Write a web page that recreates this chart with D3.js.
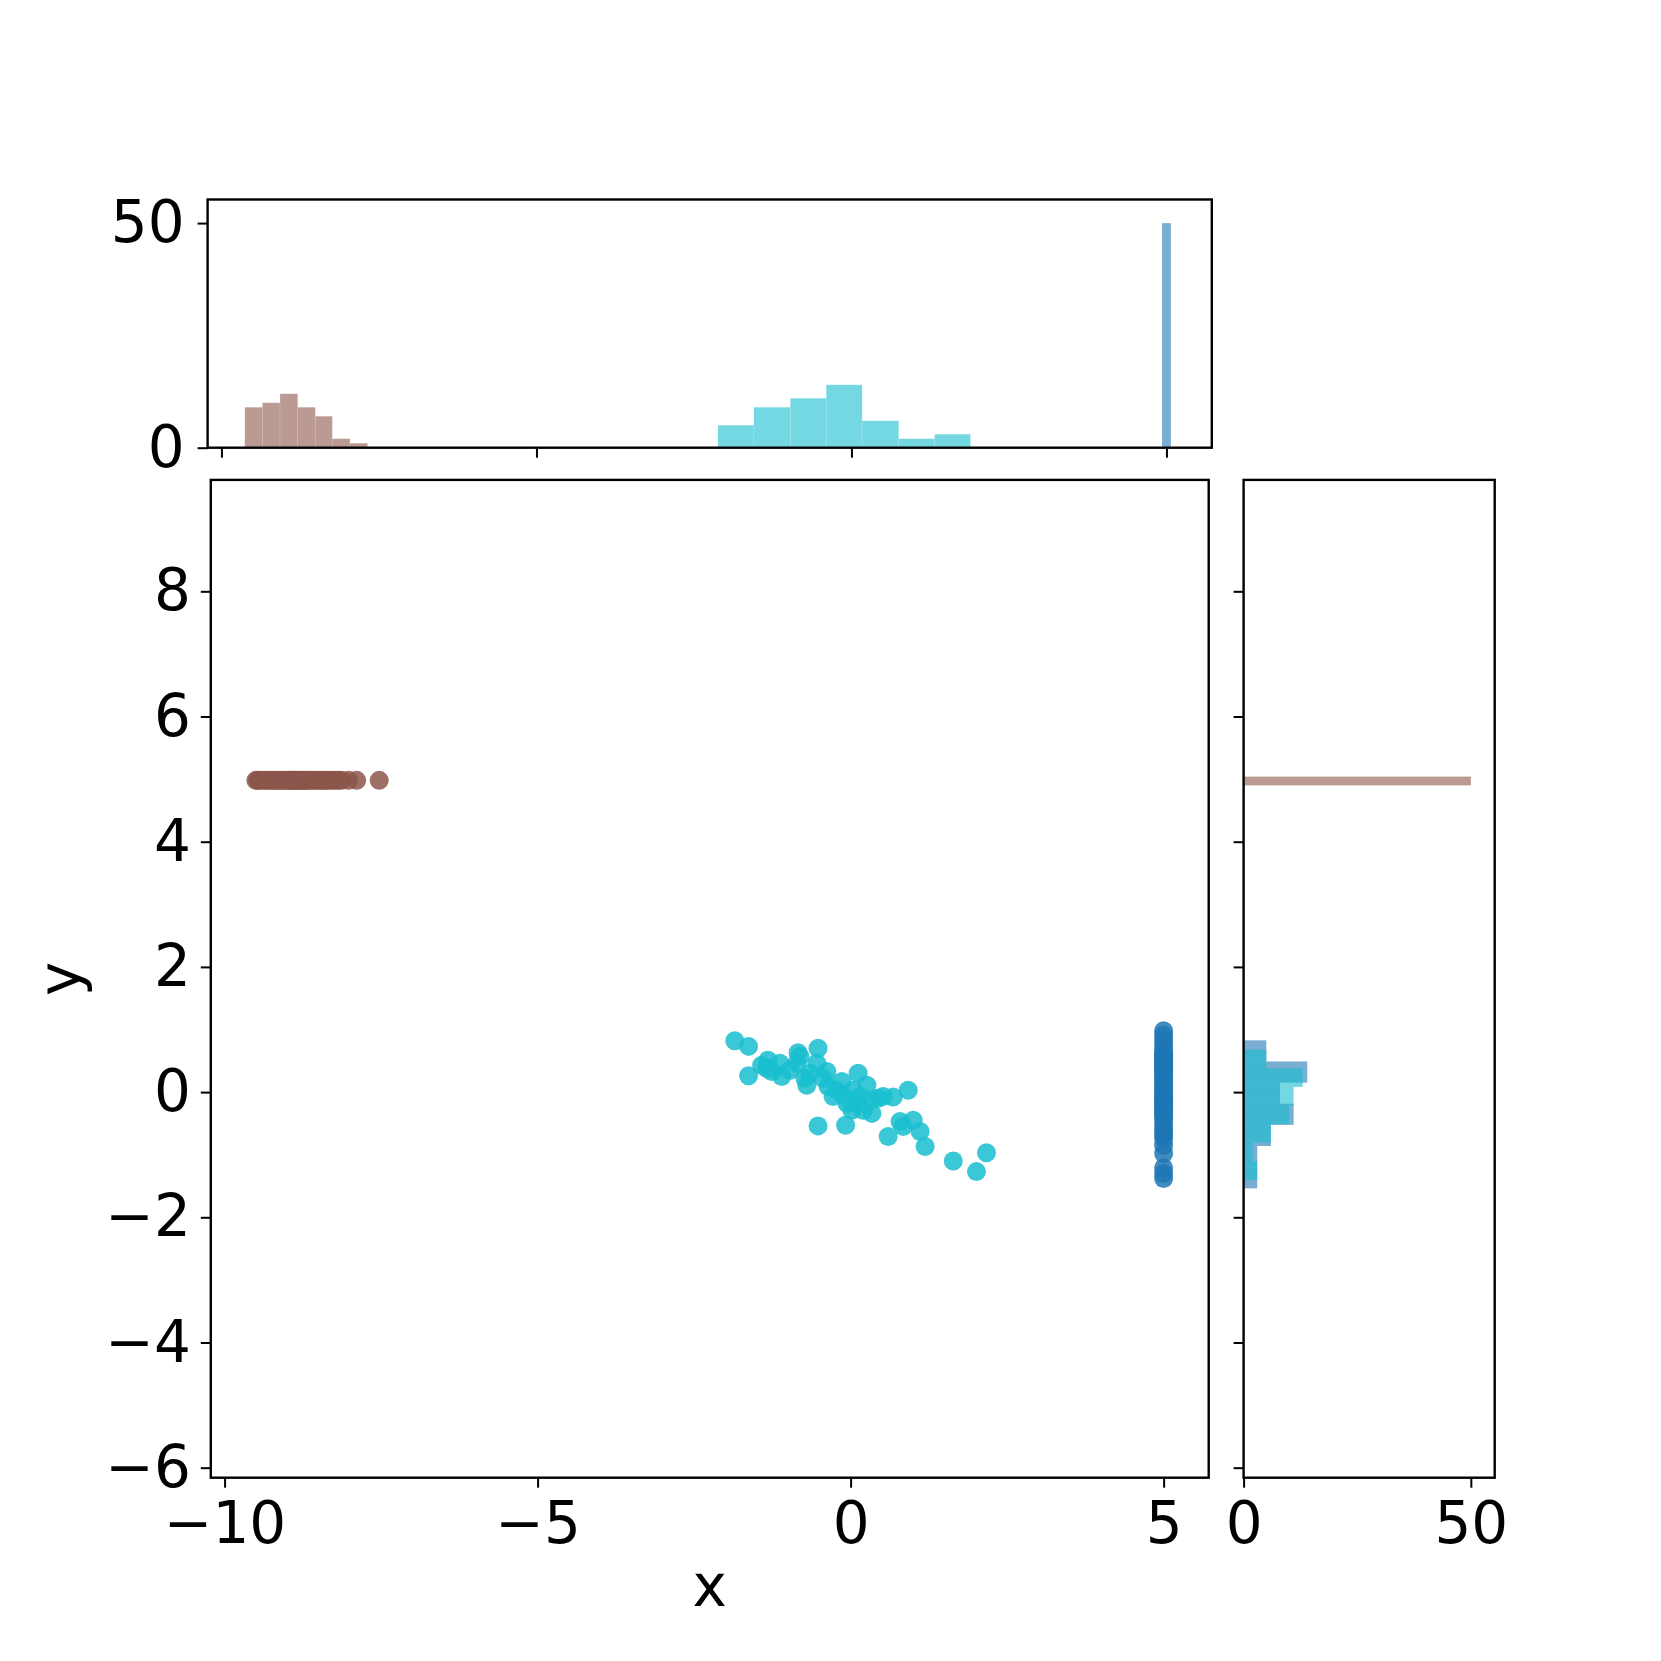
<!DOCTYPE html>
<html>
<head>
<meta charset="utf-8">
<script src="https://cdn.jsdelivr.net/npm/d3@7"></script>
<style>
  html, body { margin: 0; padding: 0; background: #ffffff; }
  svg { display: block; font-family: "DejaVu Sans", sans-serif; }
</style>
</head>
<body>
<div id="chart"></div>
<script>
// ---------------- data ----------------
const groupNames = ["blue", "brown", "cyan"];
const groupColors = ["#1f77b4", "#8c564b", "#17becf"];

// group "blue": every point sits at x = 5
const blueXValue = 5;
const blueY = [-1.38, -1.30, -1.21, -0.98, -0.85, -0.74, -0.68, -0.63, -0.57, -0.50,
  -0.44, -0.39, -0.35, -0.32, -0.28, -0.25, -0.21, -0.18, -0.15, -0.12,
  -0.09, -0.06, -0.04, 0.01, 0.05, 0.09, 0.13, 0.17, 0.21, 0.25,
  0.29, 0.33, 0.35, 0.38, 0.40, 0.43, 0.45, 0.48, 0.50, 0.53,
  0.55, 0.57, 0.59, 0.61, 0.63, 0.68, 0.75, 0.83, 0.91, 0.98];

// group "brown": every point sits at y = 5
const brownYValue = 4.98;
const brownX = [-9.50, -9.47, -9.44, -9.40, -9.36, -9.33, -9.29, -9.26, -9.23,
  -9.20, -9.17, -9.14, -9.11, -9.08, -9.05, -9.02, -8.99, -8.97, -8.95,
  -8.93, -8.91, -8.89, -8.86, -8.84, -8.81, -8.79, -8.76, -8.74, -8.72, -8.70, -8.68,
  -8.65, -8.62, -8.59, -8.56, -8.52, -8.49, -8.46, -8.43, -8.40,
  -8.37, -8.33, -8.29, -8.25, -8.21, -8.17, -8.13,
  -8.02, -7.89, -7.53];

// group "cyan"
const cyanX = [-1.85, -1.63, -1.63, -1.32, -1.34, -1.13, -1.10, -0.84, -0.86, -0.73,
  -0.70, -0.52, -0.54, -0.38, -0.36, -0.28, -0.14, -0.12, 0.12, 0.26,
  0.10, 0.02, 0.34, 0.44, 0.68, 0.92, -0.52, -0.08, 0.60, 0.84,
  1.00, 1.11, 1.19, 1.64, 2.17, 2.01, 0.20, -0.97, -0.65, -0.22,
  0.04, 0.31, 0.52, -1.26, -1.42, -0.81, -0.44, -0.06, 0.15, 0.79];
const cyanY = [0.82, 0.73, 0.26, 0.51, 0.38, 0.46, 0.25, 0.63, 0.46, 0.22,
  0.11, 0.70, 0.46, 0.33, 0.09, -0.07, 0.17, -0.05, 0.30, 0.11,
  -0.18, -0.29, -0.34, -0.10, -0.08, 0.03, -0.54, -0.53, -0.71, -0.55,
  -0.45, -0.63, -0.87, -1.10, -0.97, -1.27, -0.29, 0.35, 0.30, 0.03,
  0.03, -0.13, -0.07, 0.33, 0.43, 0.57, 0.22, -0.18, -0.07, -0.47];

// marginal histogram along x (top panel): bin edges and counts
const topBlueEdges = [4.929, 5.071];
const topBlueCounts = [50];
const topBrownEdges = [-9.63, -9.35, -9.07, -8.79, -8.51, -8.24, -7.96, -7.68];
const topBrownCounts = [9, 10, 12, 9, 7, 2, 1];
const topCyanEdges = [-2.12, -1.55, -0.97, -0.40, 0.17, 0.75, 1.32, 1.89];
const topCyanCounts = [5, 9, 11, 14, 6, 2, 3];

// marginal histogram along y (right panel): bin edges and counts
const rightBlueEdges = [-1.537, -1.199, -0.861, -0.524, -0.186, 0.151, 0.489, 0.827];
const rightBlueCounts = [3, 3, 6, 11, 8, 14, 5];
const rightBrownEdges = [4.90, 5.04];
const rightBrownCounts = [50];
const rightCyanEdges = [-1.403, -1.105, -0.808, -0.511, -0.214, 0.083, 0.380, 0.677];
const rightCyanCounts = [3, 2, 6, 10, 11, 13, 5];

const xTicks = [-10, -5, 0, 5];
const yTicks = [-6, -4, -2, 0, 2, 4, 6, 8];
const countTicks = [0, 50];
const xLabel = "x";
const yLabel = "y";

// ---------------- layout ----------------
const W = 1661, H = 1661;
const FONT = 58;
const main = { left: 210.8, right: 1208.7, top: 479.9, bottom: 1477.7 };
const topP = { left: 207.6, right: 1211.8, top: 199.5, bottom: 447.7 };
const rightP = { left: 1243.6, right: 1494.7, top: 479.9, bottom: 1477.7 };

const xDomain = [-10.22, 5.72];
const yDomain = [-6.16, 9.78];
const countMax = 55.25;

const x = d3.scaleLinear().domain(xDomain).range([main.left, main.right]);
const y = d3.scaleLinear().domain(yDomain).range([main.bottom, main.top]);
const xTop = d3.scaleLinear().domain(xDomain).range([topP.left, topP.right]);
const cTop = d3.scaleLinear().domain([0, countMax]).range([topP.bottom, topP.top]);
const cRight = d3.scaleLinear().domain([0, countMax]).range([rightP.left, rightP.right]);

const svg = d3.select("#chart").append("svg")
  .attr("width", W).attr("height", H).attr("viewBox", `0 0 ${W} ${H}`);
svg.append("rect").attr("width", W).attr("height", H).attr("fill", "#fff");

function binsOf(edges, counts) {
  return counts.map((c, i) => ({ x0: edges[i], x1: edges[i + 1], n: c }));
}

// ---------------- top histogram ----------------
const gTop = svg.append("g");
const topSets = [
  [topBlueEdges, topBlueCounts, 0],
  [topBrownEdges, topBrownCounts, 1],
  [topCyanEdges, topCyanCounts, 2]
];
topSets.forEach(([e, c, gi]) => {
  gTop.append("g").selectAll("rect").data(binsOf(e, c)).join("rect")
    .attr("x", d => xTop(d.x0))
    .attr("width", d => xTop(d.x1) - xTop(d.x0))
    .attr("y", d => cTop(d.n))
    .attr("height", d => cTop(0) - cTop(d.n))
    .attr("fill", groupColors[gi]).attr("fill-opacity", 0.6)
    .attr("stroke", "#ffffff").attr("stroke-opacity", 0.12).attr("stroke-width", 1);
});

// ---------------- right histogram ----------------
const gRight = svg.append("g");
const rightSets = [
  [rightBlueEdges, rightBlueCounts, 0],
  [rightBrownEdges, rightBrownCounts, 1],
  [rightCyanEdges, rightCyanCounts, 2]
];
rightSets.forEach(([e, c, gi]) => {
  gRight.append("g").selectAll("rect").data(binsOf(e, c)).join("rect")
    .attr("x", cRight(0))
    .attr("width", d => cRight(d.n) - cRight(0))
    .attr("y", d => y(d.x1))
    .attr("height", d => y(d.x0) - y(d.x1))
    .attr("fill", groupColors[gi]).attr("fill-opacity", 0.6);
});

// ---------------- scatter ----------------
const gPts = svg.append("g");
const R = 9.5;
const pointSets = [
  [blueY.map(v => ({ x: blueXValue, y: v })), 0],
  [brownX.map(v => ({ x: v, y: brownYValue })), 1],
  [cyanX.map((v, i) => ({ x: v, y: cyanY[i] })), 2]
];
pointSets.forEach(([pts, gi]) => {
  gPts.append("g").selectAll("circle").data(pts).join("circle")
    .attr("cx", d => x(d.x)).attr("cy", d => y(d.y)).attr("r", R)
    .attr("fill", groupColors[gi]).attr("fill-opacity", 0.85);
});

// ---------------- axes ----------------
function styleAxis(g) {
  g.select(".domain").remove();
  g.selectAll(".tick line").attr("stroke", "#000").attr("stroke-width", 2);
  g.selectAll(".tick text").attr("fill", "#000")
    .style("font-family", "'DejaVu Sans', sans-serif").style("font-size", FONT + "px");
}
function box(p) {
  svg.append("rect")
    .attr("x", p.left).attr("y", p.top)
    .attr("width", p.right - p.left).attr("height", p.bottom - p.top)
    .attr("fill", "none").attr("stroke", "#000").attr("stroke-width", 2.4);
}

// main x axis
svg.append("g").attr("transform", `translate(0,${main.bottom})`)
  .call(d3.axisBottom(x).tickValues(xTicks).tickSize(10).tickPadding(14).tickSizeOuter(0))
  .call(styleAxis);
// main y axis
svg.append("g").attr("transform", `translate(${main.left},0)`)
  .call(d3.axisLeft(y).tickValues(yTicks).tickSize(10).tickPadding(10).tickSizeOuter(0))
  .call(styleAxis);

// top hist x ticks (no labels)
svg.append("g").attr("transform", `translate(0,${topP.bottom})`)
  .call(d3.axisBottom(xTop).tickValues(xTicks).tickSize(10).tickFormat("").tickSizeOuter(0))
  .call(styleAxis);
// top hist y axis
svg.append("g").attr("transform", `translate(${topP.left},0)`)
  .call(d3.axisLeft(cTop).tickValues(countTicks).tickSize(10).tickPadding(13).tickSizeOuter(0))
  .call(styleAxis);

// right hist x axis
svg.append("g").attr("transform", `translate(0,${rightP.bottom})`)
  .call(d3.axisBottom(cRight).tickValues(countTicks).tickSize(10).tickPadding(14).tickSizeOuter(0))
  .call(styleAxis);
// right hist y ticks (no labels)
svg.append("g").attr("transform", `translate(${rightP.left},0)`)
  .call(d3.axisLeft(y).tickValues(yTicks).tickSize(10).tickFormat("").tickSizeOuter(0))
  .call(styleAxis);

box(main); box(topP); box(rightP);

// axis labels
svg.append("text")
  .attr("x", (main.left + main.right) / 2).attr("y", 1606)
  .attr("text-anchor", "middle")
  .style("font-size", FONT + "px").attr("fill", "#000")
  .text(xLabel);
svg.append("text")
  .attr("transform", `translate(80,${(main.top + main.bottom) / 2}) rotate(-90)`)
  .attr("text-anchor", "middle")
  .style("font-size", FONT + "px").attr("fill", "#000")
  .text(yLabel);
</script>
</body>
</html>
